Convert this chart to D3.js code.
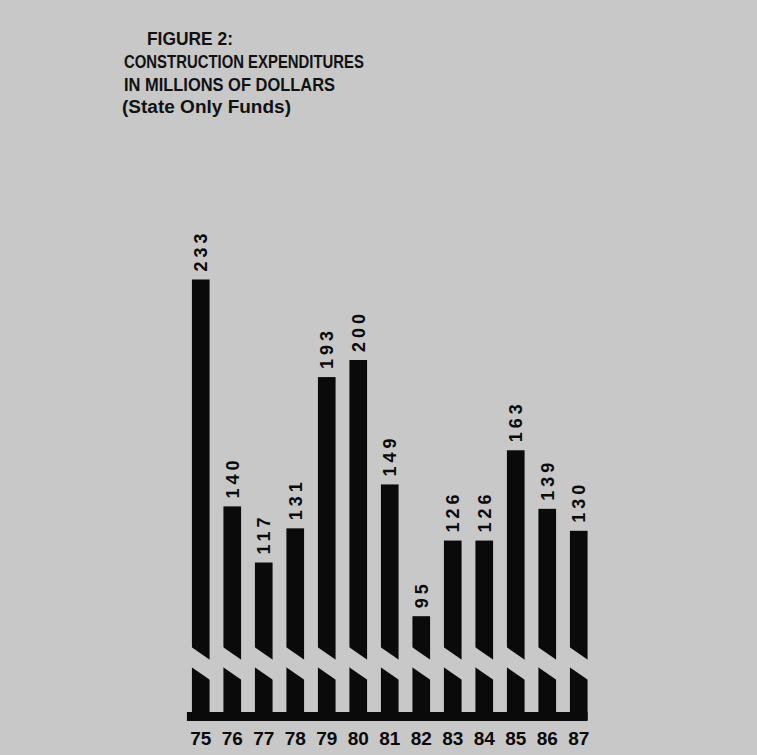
<!DOCTYPE html>
<html>
<head>
<meta charset="utf-8">
<script src="https://cdn.jsdelivr.net/npm/d3@7"></script>
<style>
  body { margin: 0; background: #c8c8c8; }
  svg { display: block; }
</style>
</head>
<body>
<svg id="chart"></svg>
<script>
const years = ['75', '76', '77', '78', '79', '80', '81', '82', '83', '84', '85', '86', '87'];
const values = [233, 140, 117, 131, 193, 200, 149, 95, 126, 126, 163, 139, 130];
const titleLines = ['FIGURE 2:', 'CONSTRUCTION EXPENDITURES', 'IN MILLIONS OF DOLLARS', '(State Only Funds)'];

const width = 757, height = 755;
const bg = '#c8c8c8';
const baseY = 720;

const svg = d3.select('#chart')
    .attr('width', width)
    .attr('height', height);

svg.append('rect')
    .attr('width', width)
    .attr('height', height)
    .style('fill', bg);

const data = years.map((y, i) => ({ year: y, value: values[i] }));

const x = d3.scaleBand()
    .domain(years)
    .range([185, 594.5])
    .paddingInner(0.44)
    .paddingOuter(0.22);

// zero sits below the paper, the bottom of every bar is cut by the break
const y = d3.scaleLinear()
    .domain([0, 250])
    .range([848, 238]);

// title block
const title = svg.append('g').attr('class', 'title');
const titleSpecs = [
  { x: 147, y: 45, len: 86, weight: 700 },
  { x: 124, y: 68, len: 240, weight: 600 },
  { x: 124, y: 91, len: 211, weight: 600 },
  { x: 122, y: 113, len: 169, weight: 600 }
];
title.selectAll('text')
    .data(titleLines)
    .enter()
    .append('text')
    .attr('x', (d, i) => titleSpecs[i].x)
    .attr('y', (d, i) => titleSpecs[i].y)
    .attr('textLength', (d, i) => titleSpecs[i].len)
    .attr('lengthAdjust', 'spacingAndGlyphs')
    .style('font-family', 'Liberation Sans, Arial, sans-serif')
    .style('font-size', '18px')
    .style('font-weight', (d, i) => titleSpecs[i].weight)
    .style('fill', '#111')
    .text((d) => d);

// bars
svg.append('g')
    .selectAll('rect.bar')
    .data(data)
    .enter()
    .append('rect')
    .classed('bar', true)
    .attr('x', (d) => x(d.year))
    .attr('y', (d) => y(d.value))
    .attr('width', x.bandwidth())
    .attr('height', (d) => baseY - y(d.value))
    .style('fill', '#0a0a0a');

// black foot strip joining the bars
svg.append('rect')
    .attr('x', x(years[0]) - 5)
    .attr('y', baseY - 8)
    .attr('width', x(years[years.length - 1]) + x.bandwidth() - x(years[0]) + 5)
    .attr('height', 9)
    .style('fill', '#0a0a0a');

// diagonal break across each bar
const bw = x.bandwidth();
svg.append('g')
    .selectAll('polygon')
    .data(data)
    .enter()
    .append('polygon')
    .attr('points', (d) => {
      const x0 = x(d.year) - 2, x1 = x(d.year) + bw + 2;
      return [[x0, 646], [x1, 661], [x1, 681], [x0, 666]].map((p) => p.join(',')).join(' ');
    })
    .style('fill', bg);

// value labels, rotated
svg.append('g')
    .selectAll('text')
    .data(data)
    .enter()
    .append('text')
    .attr('transform', (d) => `translate(${x(d.year) + bw / 2 + 6.5},${y(d.value) - 8}) rotate(-90)`)
    .style('font-family', 'Liberation Sans, Arial, sans-serif')
    .style('font-size', '18px')
    .style('font-weight', 700)
    .style('letter-spacing', '4px')
    .style('fill', '#0a0a0a')
    .text((d) => d.value);

// year labels
svg.append('g')
    .selectAll('text')
    .data(data)
    .enter()
    .append('text')
    .attr('x', (d) => x(d.year) + bw / 2)
    .attr('y', 745)
    .attr('text-anchor', 'middle')
    .style('font-family', 'Liberation Sans, Arial, sans-serif')
    .style('font-size', '19px')
    .style('font-weight', 700)
    .style('fill', '#0a0a0a')
    .text((d) => d.year);
</script>
</body>
</html>
